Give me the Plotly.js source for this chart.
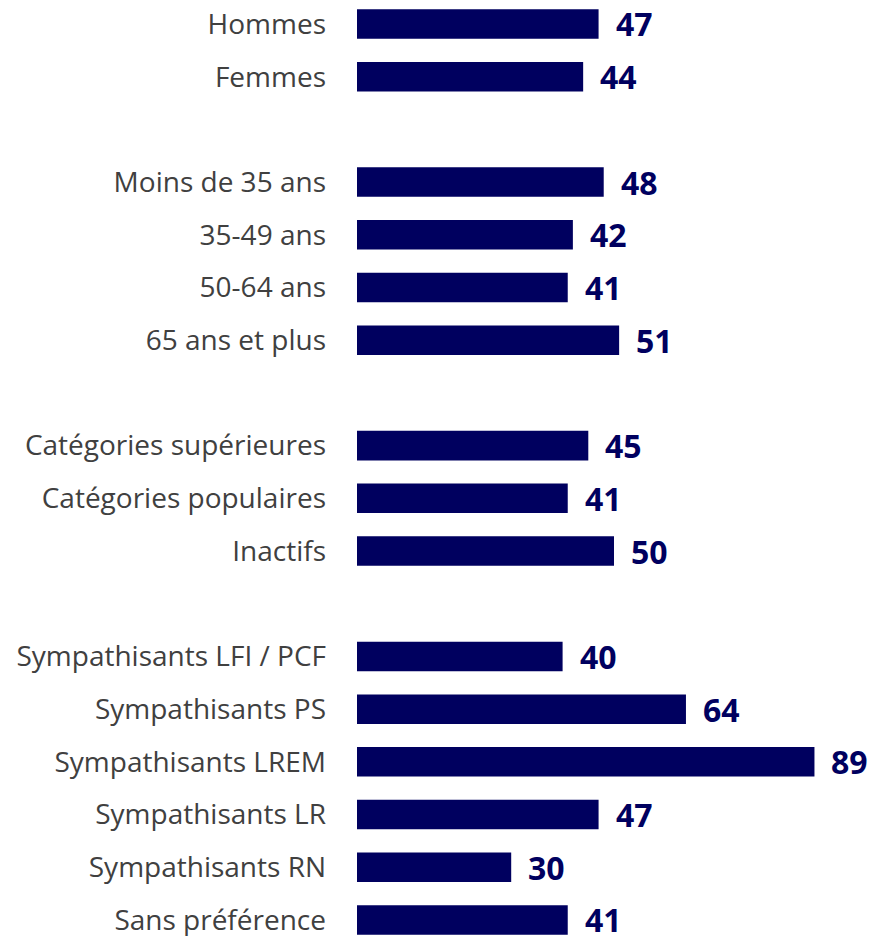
<!DOCTYPE html>
<html>
<head>
<meta charset="utf-8">
<script src="https://cdn.plot.ly/plotly-3.0.1.min.js"></script>
<style>html,body{margin:0;padding:0;background:#fff;}#chart{width:877px;height:936px;}</style>
</head>
<body>
<div id="chart"></div>
<script>
// Categories (blank strings are group spacers)
var categories = [
  "Hommes", "Femmes",
  " ",
  "Moins de 35 ans", "35-49 ans", "50-64 ans", "65 ans et plus",
  "  ",
  "Catégories supérieures", "Catégories populaires", "Inactifs",
  "   ",
  "Sympathisants LFI / PCF", "Sympathisants PS", "Sympathisants LREM",
  "Sympathisants LR", "Sympathisants RN", "Sans préférence"
];
var values = [
  47, 44,
  null,
  48, 42, 41, 51,
  null,
  45, 41, 50,
  null,
  40, 64, 89, 47, 30, 41
];

var barColor = "#00005f";

var annotations = [];
for (var i = 0; i < categories.length; i++) {
  if (values[i] === null) continue;
  annotations.push({
    x: values[i], y: categories[i], xref: "x", yref: "y",
    text: String(values[i]), showarrow: false,
    xanchor: "left", yanchor: "middle", xshift: 16, borderpad: 0,
    font: {family: "Open Sans", size: 32, color: barColor, weight: "bold"}
  });
}

var trace = {
  type: "bar", orientation: "h",
  x: values, y: categories,
  marker: {color: barColor},
  width: 0.56,
  hoverinfo: "none"
};

var layout = {
  width: 877, height: 936,
  margin: {l: 357, r: 6, t: 0, b: 0},
  paper_bgcolor: "#fff", plot_bgcolor: "#fff",
  showlegend: false,
  xaxis: {range: [0, 100], visible: false, fixedrange: true},
  yaxis: {
    type: "category",
    categoryorder: "array", categoryarray: categories,
    range: [17.304, -0.455],
    showgrid: false, zeroline: false, showline: false,
    ticks: "", ticklabelstandoff: 30,
    tickfont: {family: "Open Sans", size: 28, color: "#404040"},
    fixedrange: true
  },
  annotations: annotations
};

Plotly.newPlot("chart", [trace], layout, {displayModeBar: false, staticPlot: true});
</script>
</body>
</html>
